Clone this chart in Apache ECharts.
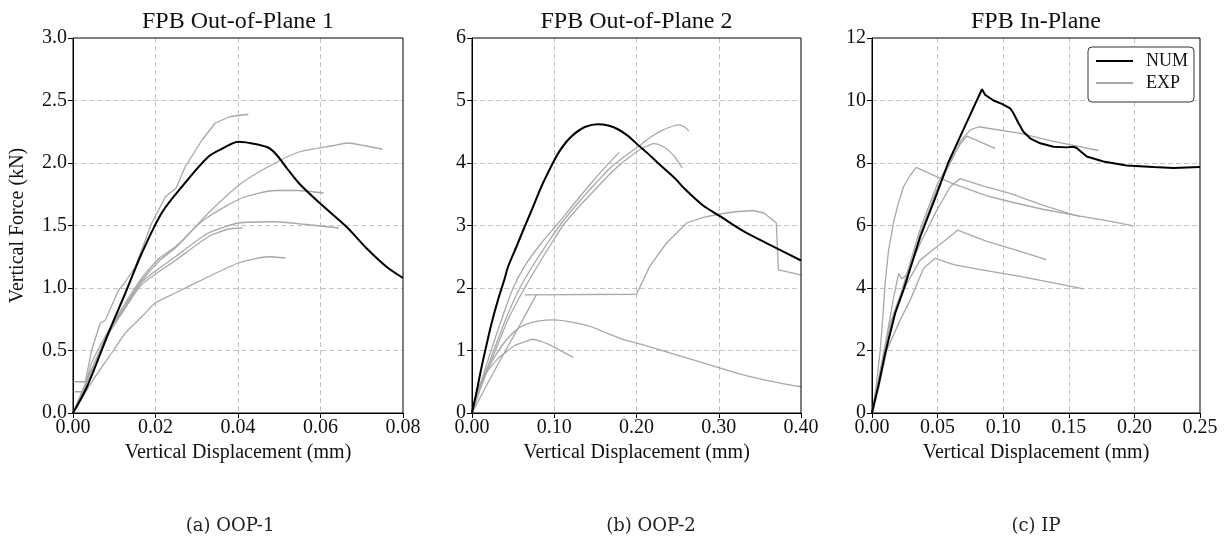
<!DOCTYPE html>
<html>
<head>
<meta charset="utf-8">
<script src="https://cdn.jsdelivr.net/npm/echarts@6/dist/echarts.min.js"></script>
<style>
html,body{margin:0;padding:0;background:#fff;}
#chart{width:1228px;height:542px;}
</style>
</head>
<body>
<div id="chart"></div>
<script>
// ---------- Panel (a) OOP-1 ----------
const oop1Num = [[0,0],[0.0034,0.21],[0.0086,0.64],[0.0127,0.96],[0.0167,1.28],[0.0215,1.6],[0.0264,1.81],[0.0328,2.05],[0.0365,2.12],[0.0401,2.17],[0.0445,2.15],[0.0475,2.12],[0.0495,2.06],[0.0518,1.96],[0.055,1.83],[0.0598,1.68],[0.0663,1.49],[0.0711,1.32],[0.076,1.17],[0.08,1.08]];
const oop1ExpA = [[0,0.25],[0.003,0.25],[0.0045,0.5],[0.0066,0.72],[0.0078,0.74],[0.011,0.98],[0.0125,1.04],[0.0151,1.17],[0.0175,1.38],[0.0191,1.52],[0.0224,1.73],[0.025,1.8],[0.0272,1.97],[0.0312,2.18],[0.0345,2.32],[0.038,2.37],[0.0425,2.39]];
const oop1ExpB = [[0,0.17],[0.0022,0.17],[0.0045,0.4],[0.0086,0.66],[0.0127,0.88],[0.0167,1.08],[0.021,1.24],[0.0248,1.33],[0.0272,1.4],[0.0328,1.6],[0.0409,1.84],[0.049,2.0],[0.055,2.09],[0.0632,2.14],[0.0667,2.16],[0.0705,2.14],[0.075,2.11]];
const oop1ExpC = [[0,0],[0.0045,0.35],[0.0086,0.65],[0.0127,0.86],[0.0167,1.06],[0.021,1.22],[0.0248,1.32],[0.0288,1.46],[0.0328,1.57],[0.0409,1.72],[0.049,1.78],[0.0545,1.78],[0.0608,1.76]];
const oop1ExpD = [[0,0],[0.0045,0.33],[0.0086,0.64],[0.0127,0.85],[0.0167,1.05],[0.0248,1.25],[0.0328,1.44],[0.0401,1.52],[0.049,1.53],[0.056,1.51],[0.0645,1.48]];
const oop1ExpE = [[0,0],[0.0045,0.32],[0.0086,0.63],[0.0127,0.84],[0.0167,1.03],[0.0248,1.22],[0.0328,1.41],[0.0375,1.47],[0.0411,1.48]];
const oop1ExpF = [[0,0],[0.005,0.27],[0.0098,0.5],[0.0127,0.64],[0.0167,0.77],[0.0199,0.88],[0.0248,0.96],[0.0328,1.09],[0.0401,1.2],[0.0474,1.25],[0.0515,1.24]];

// ---------- Panel (b) OOP-2 ----------
const oop2Num = [[0,0],[0.0057,0.35],[0.0114,0.72],[0.0154,0.96],[0.0235,1.42],[0.0316,1.81],[0.0397,2.15],[0.0438,2.34],[0.054,2.66],[0.064,2.98],[0.0743,3.3],[0.0843,3.62],[0.0945,3.9],[0.1045,4.15],[0.1148,4.34],[0.1248,4.47],[0.138,4.58],[0.1531,4.62],[0.1655,4.6],[0.1774,4.54],[0.19,4.43],[0.2017,4.29],[0.214,4.15],[0.226,4.0],[0.2463,3.76],[0.2568,3.61],[0.281,3.32],[0.3014,3.15],[0.33,2.91],[0.3622,2.69],[0.40,2.44]];
const oop2ExpA = [[0,0],[0.011,0.45],[0.025,0.95],[0.041,1.5],[0.058,2.0],[0.075,2.38],[0.09,2.68],[0.1066,3.0],[0.125,3.3],[0.145,3.6],[0.168,3.92],[0.185,4.1],[0.2017,4.26],[0.218,4.42],[0.2325,4.53],[0.2463,4.6],[0.2507,4.61],[0.258,4.58],[0.2637,4.51]];
const oop2ExpB = [[0,0],[0.012,0.45],[0.027,0.95],[0.044,1.5],[0.064,2.0],[0.08,2.36],[0.095,2.68],[0.1106,3.0],[0.13,3.3],[0.15,3.58],[0.172,3.88],[0.19,4.08],[0.205,4.22],[0.2215,4.31],[0.23,4.28],[0.2381,4.21],[0.2463,4.1],[0.2556,3.92]];
const oop2ExpC = [[0,0],[0.01,0.45],[0.022,0.95],[0.036,1.5],[0.05,2.0],[0.064,2.35],[0.0843,2.72],[0.1025,3.0],[0.1248,3.36],[0.145,3.68],[0.163,3.95],[0.179,4.17]];
const oop2ExpD = [[0,0],[0.02,0.5],[0.04,0.98],[0.06,1.45],[0.0782,1.89],[0.064,1.89],[0.2,1.9],[0.2162,2.35],[0.2365,2.72],[0.261,3.04],[0.281,3.13],[0.30,3.18],[0.32,3.22],[0.342,3.24],[0.355,3.2],[0.37,3.04],[0.3725,2.29],[0.40,2.21]];
const oop2ExpE = [[0,0],[0.008,0.4],[0.0154,0.62],[0.0276,0.9],[0.0377,1.1],[0.0438,1.2],[0.054,1.33],[0.064,1.41],[0.08,1.47],[0.1,1.49],[0.123,1.45],[0.145,1.38],[0.16,1.3],[0.1855,1.17],[0.208,1.09],[0.2487,0.93],[0.289,0.77],[0.33,0.61],[0.37,0.49],[0.40,0.42]];
const oop2ExpF = [[0,0],[0.008,0.38],[0.0154,0.6],[0.0215,0.72],[0.0316,0.87],[0.0418,0.98],[0.0519,1.08],[0.062,1.13],[0.0741,1.18],[0.085,1.14],[0.0945,1.09],[0.11,0.98],[0.123,0.89]];

// ---------- Panel (c) IP ----------
const ipNum = [[0,0],[0.005,0.9],[0.01,1.9],[0.0177,3.2],[0.024,3.94],[0.0368,5.64],[0.0495,7.03],[0.058,8.0],[0.07,9.1],[0.0838,10.36],[0.0863,10.18],[0.0926,10.0],[0.099,9.89],[0.1053,9.75],[0.1078,9.59],[0.1117,9.27],[0.1154,9.0],[0.1205,8.79],[0.1282,8.63],[0.1383,8.52],[0.1485,8.5],[0.1535,8.52],[0.156,8.48],[0.1637,8.21],[0.1764,8.05],[0.194,7.92],[0.2145,7.87],[0.2297,7.84],[0.25,7.87]];
const ipExpA = [[0,0],[0.005,0.9],[0.012,2.5],[0.024,3.95],[0.0368,5.76],[0.0495,7.15],[0.0622,8.21],[0.0672,8.68],[0.0749,9.06],[0.0812,9.16],[0.113,8.95],[0.1383,8.69],[0.146,8.63],[0.1726,8.4]];
const ipExpB = [[0,0],[0.006,1.0],[0.013,2.6],[0.024,4.1],[0.0368,5.9],[0.0495,7.3],[0.06,8.1],[0.0672,8.6],[0.0723,8.86],[0.0939,8.47]];
const ipExpC = [[0,0],[0.003,0.8],[0.0063,2.02],[0.0085,3.2],[0.01,4.15],[0.0126,5.2],[0.0165,6.12],[0.02,6.7],[0.024,7.24],[0.029,7.6],[0.0337,7.86],[0.05,7.55],[0.0622,7.33],[0.0876,6.95],[0.1053,6.76],[0.13,6.52],[0.1586,6.3],[0.18,6.15],[0.1992,5.99]];
const ipExpD = [[0,0],[0.005,1.1],[0.011,2.4],[0.0165,3.7],[0.0203,4.47],[0.0225,4.3],[0.026,4.4],[0.0368,5.43],[0.0495,6.5],[0.0596,7.24],[0.0672,7.5],[0.085,7.26],[0.1053,7.03],[0.13,6.65],[0.1586,6.28]];
const ipExpE = [[0,0],[0.005,0.9],[0.0139,2.87],[0.02,3.6],[0.0266,4.15],[0.0368,4.9],[0.0495,5.32],[0.058,5.6],[0.0652,5.85],[0.0876,5.49],[0.113,5.17],[0.1327,4.91]];
const ipExpF = [[0,0],[0.005,0.8],[0.0114,2.02],[0.0215,2.98],[0.0292,3.62],[0.0393,4.63],[0.0482,4.95],[0.0622,4.75],[0.0825,4.59],[0.113,4.37],[0.1612,3.97]];

// ---------- axes / labels ----------
const panelTitles = ['FPB Out-of-Plane 1', 'FPB Out-of-Plane 2', 'FPB In-Plane'];
const captions = ['(a) OOP-1', '(b) OOP-2', '(c) IP'];
const xMax = [0.08, 0.40, 0.25];
const xStep = [0.02, 0.10, 0.05];
const yMax = [3.0, 6, 12];
const yStep = [0.5, 1, 2];
const yDecimals = [1, 0, 0];
const xName = 'Vertical Displacement (mm)';
const yName = 'Vertical Force (kN)';
const legendNames = ['NUM', 'EXP'];

const numSets = [oop1Num, oop2Num, ipNum];
const expSets = [
  [oop1ExpA, oop1ExpB, oop1ExpC, oop1ExpD, oop1ExpE, oop1ExpF],
  [oop2ExpA, oop2ExpB, oop2ExpC, oop2ExpD, oop2ExpE, oop2ExpF],
  [ipExpA, ipExpB, ipExpC, ipExpD, ipExpE, ipExpF]
];
// smoothing of rendered polyline (style only)
const numSmooth = [0.3, 0.3, 0];
const expSmooth = [
  [0, 0.2, 0.2, 0.2, 0.2, 0.2],
  [0.25, 0.25, 0.25, 0, 0.25, 0.2],
  [0, 0, 0, 0, 0, 0]
];

const SERIF = '"Liberation Serif", "Times New Roman", serif';
const grids = [
  {left: 73, top: 38, width: 330, height: 375},
  {left: 472, top: 38, width: 329, height: 375},
  {left: 872, top: 38, width: 328, height: 375}
];
const captionX = [230, 651, 1036];

const chart = echarts.init(document.getElementById('chart'), null, {renderer: 'canvas'});

const xAxes = [], yAxes = [], series = [], graphics = [];
for (let i = 0; i < 3; i++) {
  xAxes.push({
    type: 'value', gridIndex: i, min: 0, max: xMax[i], interval: xStep[i],
    name: xName, nameLocation: 'middle', nameGap: 27,
    nameTextStyle: {fontFamily: SERIF, fontSize: 20, color: '#111'},
    axisLine: {show: true, onZero: false, lineStyle: {color: '#000', width: 1}},
    axisTick: {show: true, length: 5, lineStyle: {color: '#000'}},
    axisLabel: {fontFamily: SERIF, fontSize: 20, color: '#111', margin: 5,
      formatter: v => v.toFixed(2)},
    splitLine: {show: true, showMinLine: false, showMaxLine: false,
      lineStyle: {color: '#c4c4c4', type: [5, 3], width: 1}}
  });
  yAxes.push({
    type: 'value', gridIndex: i, min: 0, max: yMax[i], interval: yStep[i],
    name: i === 0 ? yName : '', nameLocation: 'middle', nameGap: 45,
    nameTextStyle: {fontFamily: SERIF, fontSize: 20, color: '#111'},
    axisLine: {show: true, onZero: false, lineStyle: {color: '#000', width: 1}},
    axisTick: {show: true, length: 5, lineStyle: {color: '#000'}},
    axisLabel: {fontFamily: SERIF, fontSize: 20, color: '#111', margin: 6,
      formatter: (v => v.toFixed(yDecimals[i]))},
    splitLine: {show: true, showMinLine: false, showMaxLine: false,
      lineStyle: {color: '#c4c4c4', type: [5, 3], width: 1}}
  });
  expSets[i].forEach((d, k) => {
    series.push({
      type: 'line', name: 'EXP', xAxisIndex: i, yAxisIndex: i, data: d,
      symbol: 'none', showSymbol: false, clip: true, z: 2,
      smooth: expSmooth[i][k],
      lineStyle: {color: '#a8a8a8', width: 1.3}, itemStyle: {color: '#a8a8a8'}
    });
  });
  series.push({
    type: 'line', name: 'NUM', xAxisIndex: i, yAxisIndex: i, data: numSets[i],
    symbol: 'none', showSymbol: false, clip: true, z: 3,
    smooth: numSmooth[i],
    lineStyle: {color: '#000', width: 2}, itemStyle: {color: '#000'}
  });
  const g = grids[i];
  graphics.push({
    type: 'text', x: g.left + g.width / 2, y: 22,
    style: {text: panelTitles[i], font: '24px ' + SERIF, fill: '#111', align: 'center', verticalAlign: 'middle'}
  });
  graphics.push({
    type: 'text', x: captionX[i], y: 526,
    style: {text: captions[i], font: '18px "DejaVu Serif", serif', fill: '#222', align: 'center', verticalAlign: 'middle'}
  });
  graphics.push({
    type: 'rect', z: 100, silent: true,
    shape: {x: g.left, y: g.top, width: g.width, height: g.height},
    style: {fill: 'none', stroke: '#000', lineWidth: 1}
  });
}

chart.setOption({
  animation: false,
  backgroundColor: '#fff',
  grid: grids.map(g => Object.assign({show: false}, g)),
  xAxis: xAxes,
  yAxis: yAxes,
  legend: {
    data: legendNames, orient: 'vertical', left: 1088, top: 47,
    itemWidth: 37, itemHeight: 14, itemGap: 4,
    padding: [5, 6, 10, 7], selectedMode: false,
    borderColor: '#333', borderWidth: 1, borderRadius: 4, backgroundColor: '#fff',
    itemStyle: {opacity: 0},
    textStyle: {fontFamily: SERIF, fontSize: 18, color: '#111', padding: [0, 0, 0, 8]}
  },
  series: series,
  graphic: graphics
});
</script>
</body>
</html>
